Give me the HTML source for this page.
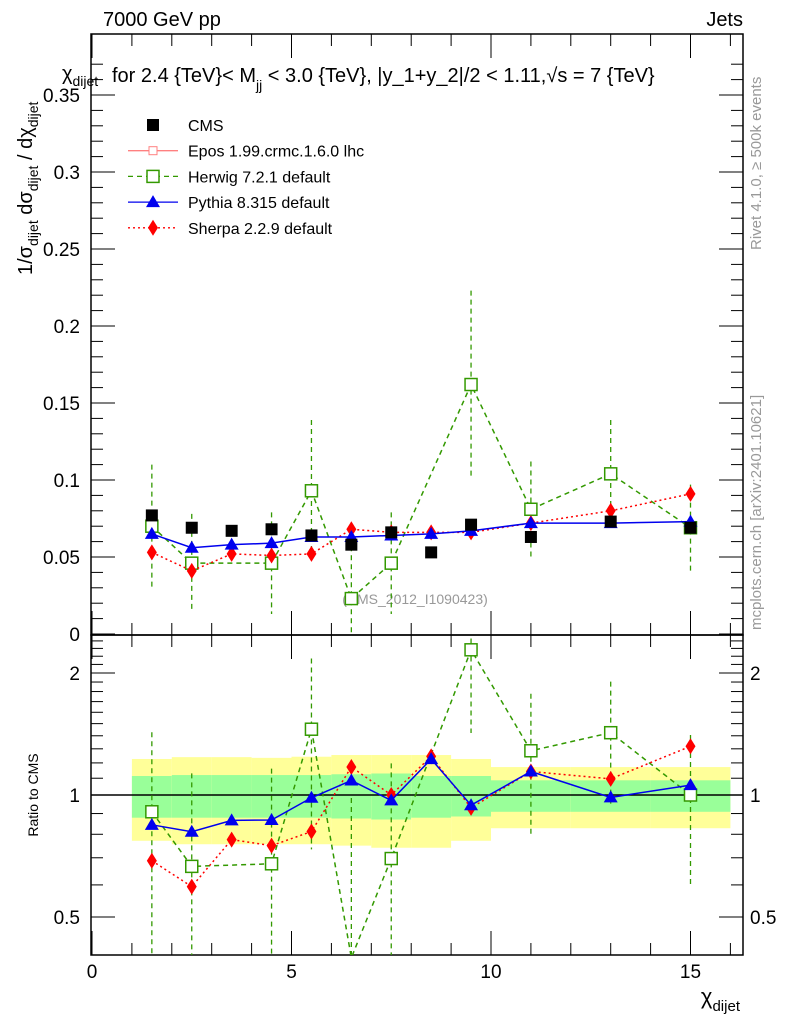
<!DOCTYPE html>
<html><head><meta charset="utf-8"><style>
html,body{margin:0;padding:0;background:#fff;overflow:hidden;width:786px;height:1024px;}
svg{display:block;font-family:"Liberation Sans",sans-serif;}
</style></head><body>
<svg id="c" width="786" height="1024" viewBox="0 0 786 1024" xmlns="http://www.w3.org/2000/svg">
<text x="103" y="26" font-size="20">7000 GeV pp</text>
<text x="743" y="26" font-size="20" text-anchor="end">Jets</text>
<text x="112" y="82" font-size="20">for 2.4 {TeV}&lt; M<tspan font-size="14" dy="8">jj</tspan><tspan dy="-8"> &lt; 3.0 {TeV}, |y_1+y_2|/2 &lt; 1.11,√s = 7 {TeV}</tspan></text>
<text transform="translate(761,250) rotate(-90)" font-size="15" fill="#999">Rivet 4.1.0, ≥ 500k events</text>
<text transform="translate(761,630) rotate(-90)" font-size="15" fill="#999">mcplots.cern.ch [arXiv:2401.10621]</text>
<text x="415" y="604" font-size="14" fill="#999" text-anchor="middle">(CMS_2012_I1090423)</text>
<g font-size="20">
<text transform="translate(32,275) rotate(-90)">1/σ<tspan font-size="14" dy="6">dijet</tspan><tspan dy="-6"> dσ</tspan><tspan font-size="14" dy="6">dijet</tspan><tspan dy="-6"> / dχ</tspan><tspan font-size="14" dy="6">dijet</tspan></text>
<text x="62" y="80">χ<tspan font-size="14" dy="6">dijet</tspan></text>
</g>
<text transform="translate(38,795) rotate(-90)" font-size="14" text-anchor="middle">Ratio to CMS</text>
<text x="740" y="1004" font-size="22" text-anchor="end">χ<tspan font-size="15" dy="7">dijet</tspan></text>
<g id="bands"></g><g id="axes"></g><g id="marks"></g><g id="legend"></g>
</svg>
<script>
const xCenters=[1.5,2.5,3.5,4.5,5.5,6.5,7.5,8.5,9.5,11,13,15];
const binLo=[1,2,3,4,5,6,7,8,9,10,12,14];
const binHi=[2,3,4,5,6,7,8,9,10,12,14,16];
const cms=[0.077,0.069,0.067,0.068,0.064,0.058,0.066,0.053,0.071,0.063,0.073,0.069];
const pythia=[0.065,0.056,0.058,0.059,0.063,0.063,0.064,0.065,0.067,0.072,0.072,0.073];
const sherpa=[0.053,0.041,0.052,0.051,0.052,0.068,0.066,0.066,0.066,0.072,0.080,0.091];
const herwig=[0.070,0.046,null,0.046,0.093,0.023,0.046,null,0.162,0.081,0.104,0.069];
const herwigErr=[0.040,0.032,null,0.033,0.046,0.034,0.033,null,0.061,0.031,0.035,0.028];
const yellowUp=[1.227,1.24,1.24,1.235,1.243,1.255,1.255,1.255,1.227,1.172,1.172,1.172];
const yellowDn=[0.771,0.756,0.756,0.756,0.756,0.75,0.741,0.741,0.771,0.828,0.828,0.828];
const greenUp=[1.114,1.12,1.12,1.12,1.12,1.125,1.13,1.114,1.114,1.087,1.087,1.087];
const greenDn=[0.879,0.879,0.879,0.879,0.879,0.875,0.87,0.879,0.885,0.909,0.909,0.909];
const yTicks=[0,0.05,0.1,0.15,0.2,0.25,0.3,0.35];
const yTickLabels=["0","0.05","0.1","0.15","0.2","0.25","0.3","0.35"];
const xTicks=[0,5,10,15];
const rTicks=[0.5,1,2];

const NS="http://www.w3.org/2000/svg";
const X0=91,X1=743,T=34,M=635,B=955;
const sx=v=>92+39.9*v;
const sy=v=>634-1540*v;
const sr=v=>795-122*Math.log2(v);
function mk(p,t,a){const e=document.createElementNS(NS,t);for(const k in a)e.setAttribute(k,a[k]);document.getElementById(p).appendChild(e);return e;}
binLo.forEach((lo,i)=>{
 let r=mk('bands','rect',{x:sx(lo),y:sr(yellowUp[i]),width:sx(binHi[i])-sx(lo),height:sr(yellowDn[i])-sr(yellowUp[i]),fill:'#ffff99'});
 
 
 let g=mk('bands','rect',{x:sx(lo),y:sr(greenUp[i]),width:sx(binHi[i])-sx(lo),height:sr(greenDn[i])-sr(greenUp[i]),fill:'#99ff99'});
 
 
});
let f1=mk('axes','rect',{x:X0,y:T,width:X1-X0,height:M-T,fill:'none',stroke:'#000','stroke-width':1.5});


let f2=mk('axes','rect',{x:X0,y:M,width:X1-X0,height:B-M,fill:'none',stroke:'#000','stroke-width':1.5});


let one=mk('axes','line',{x1:X0,x2:X1,y1:sr(1),y2:sr(1),stroke:'#000','stroke-width':1.5});


for(let k=0;k<=37;k++){const v=k*0.01,y=sy(v);if(y<T)break;const L=k%5==0?24:12;
 mk('axes','line',{x1:X0,x2:X0+L,y1:y,y2:y,stroke:'#000'});mk('axes','line',{x1:X1-L,x2:X1,y1:y,y2:y,stroke:'#000'});}
yTicks.forEach((v,i)=>{const t=mk('axes','text',{x:80,y:sy(v)+7,'font-size':19,'text-anchor':'end'});t.textContent=yTickLabels[i];
 
 });
for(let k=0;k<=16;k++){const x=sx(k);const L=k%5==0?24:12;
 [[T,1],[M,-1],[M,1],[B,-1]].forEach(([y,d])=>mk('axes','line',{x1:x,x2:x,y1:y,y2:y+d*L,stroke:'#000'}));}
xTicks.forEach(v=>{const t=mk('axes','text',{x:sx(v),y:978,'font-size':19,'text-anchor':'middle'});t.textContent=v;
 
 });
[0.5,0.6,0.7,0.8,0.9,1,1.1,1.2,1.3,1.4,1.5,1.6,1.7,1.8,1.9,2,2.1,2.2,2.3,2.4].forEach(v=>{const y=sr(v);const L=rTicks.includes(v)?24:12;
 mk('axes','line',{x1:X0,x2:X0+L,y1:y,y2:y,stroke:'#000'});mk('axes','line',{x1:X1-L,x2:X1,y1:y,y2:y,stroke:'#000'});});
rTicks.forEach(v=>{[[80,'end'],[750,'start']].forEach(([x,a])=>{const t=mk('axes','text',{x:x,y:sr(v)+7,'font-size':19,'text-anchor':a});t.textContent=v;
 
 });});
function marker(g,type,x,y,col){
 let e;
 if(type=='sq') e=mk(g,'rect',{x:x-6,y:y-6,width:12,height:12,fill:col});
 else if(type=='osq') e=mk(g,'rect',{x:x-6,y:y-6,width:12,height:12,fill:'#fff',stroke:col,'stroke-width':1.5});
 else if(type=='tri') e=mk(g,'polygon',{points:`${x},${y-7} ${x-7},${y+5} ${x+7},${y+5}`,fill:col});
 else e=mk(g,'polygon',{points:`${x},${y-8} ${x-5},${y} ${x},${y+8} ${x+5},${y}`,fill:col});
 return e;}
function series(vals,errs,fy,col,dash,type,name,clip){
 const pts=[];vals.forEach((v,i)=>{if(v!=null)pts.push([sx(xCenters[i]),fy(v,i)]);});
 const pl=mk('marks','polyline',{points:pts.map(p=>p.join(',')).join(' '),fill:'none',stroke:col,'stroke-width':1.5,'stroke-dasharray':dash,'clip-path':clip});
 
 
 vals.forEach((v,i)=>{if(v==null)return;const x=sx(xCenters[i]);
  if(errs&&errs[i]!=null){const l=mk('marks','line',{x1:x,x2:x,y1:fy(v+errs[i],i),y2:fy(Math.max(v-errs[i],1e-4),i),stroke:col,'stroke-width':1.3,'stroke-dasharray':dash,'clip-path':clip});
   
   }
  const y=fy(v,i);if(y<T||y>B)return;
  const m=marker('marks',type,x,y,col);
  
  });}
const defs=mk('c','defs',{});
const cp1=document.createElementNS(NS,'clipPath');cp1.id='cm';defs.appendChild(cp1);
const r1=document.createElementNS(NS,'rect');r1.setAttribute('x',X0);r1.setAttribute('y',T);r1.setAttribute('width',X1-X0);r1.setAttribute('height',M-T);cp1.appendChild(r1);
const cp2=document.createElementNS(NS,'clipPath');cp2.id='cr';defs.appendChild(cp2);
const r2=document.createElementNS(NS,'rect');r2.setAttribute('x',X0);r2.setAttribute('y',M);r2.setAttribute('width',X1-X0);r2.setAttribute('height',B-M);cp2.appendChild(r2);
const fm=v=>sy(v), frat=(v,i)=>sr(v/cms[i]);
series(herwig,herwigErr,fm,'#339900','5,4','osq','herwig','url(#cm)');
series(sherpa,null,fm,'#ff0000','2,3','dia','sherpa','url(#cm)');
series(pythia,null,fm,'#0000ee','','tri','pythia','url(#cm)');
cms.forEach((v,i)=>{const m=marker('marks','sq',sx(xCenters[i]),sy(v),'#000');
 
 });
series(herwig,herwigErr,frat,'#339900','5,4','osq','herwig-ratio','url(#cr)');
series(sherpa,null,frat,'#ff0000','2,3','dia','sherpa-ratio','url(#cr)');
series(pythia,null,frat,'#0000ee','','tri','pythia-ratio','url(#cr)');
const leg=[['CMS','#000','','sq'],['Epos 1.99.crmc.1.6.0 lhc','#ff8080','','ep'],['Herwig 7.2.1 default','#339900','5,4','osq'],['Pythia 8.315 default','#0000ee','','tri'],['Sherpa 2.2.9 default','#ff0000','2,3','dia']];
leg.forEach((l,i)=>{const y=125+i*25.7,x=153;
 if(l[0]!='CMS')mk('legend','line',{x1:128,x2:178,y1:y,y2:y,stroke:l[1],'stroke-width':1.3,'stroke-dasharray':l[2]});
 if(l[3]=='ep'){mk('legend','rect',{x:x-4,y:y-4,width:8,height:8,fill:'#fff',stroke:l[1]});}
 else marker('legend',l[3],x,y,l[1]);
 const t=mk('legend','text',{x:188,y:y+6,'font-size':16});t.textContent=l[0];
 
 });
</script>
</body></html>
